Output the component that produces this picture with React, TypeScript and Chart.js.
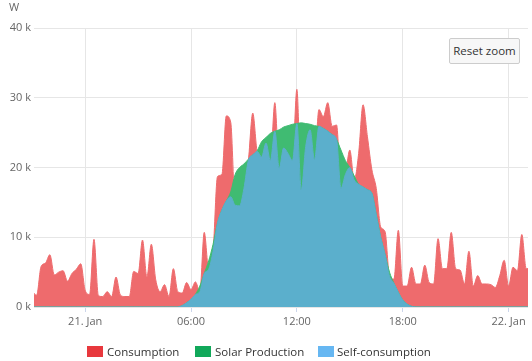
import React, { useEffect, useRef } from "react";
import { Chart, registerables } from "chart.js";

Chart.register(...registerables);

// time grid: 15-minute steps starting 20 Jan 21:00 (hours relative to 21 Jan 00:00)
const startHour = -3;
const stepHours = 0.25;

const consumption = [
  2200, 1700, 5800, 6300, 7500, 4600, 5000, 5200, 3700, 4800,
  5400, 6200, 2400, 1800, 9700, 1600, 1500, 2200, 1500, 4300,
  1700, 1500, 1500, 5100, 4800, 9600, 4300, 9000, 3900, 2200,
  3200, 1500, 5500, 2200, 2000, 3500, 2500, 3600, 2200, 10700,
  5400, 8000, 18700, 19000, 27400, 26500, 14800, 14500, 17000, 21000,
  27800, 22300, 21500, 23500, 21000, 29300, 19900, 22800, 22000, 21000,
  31200, 16800, 23000, 25400, 21100, 28300, 27300, 29300, 25900, 26100,
  17500, 19000, 22500, 18200, 22000, 29000, 24400, 19700, 17000, 11500,
  10800, 4400, 4000, 11000, 3000, 3000, 5700, 3300, 3300, 6000,
  3500, 3300, 9800, 5500, 5500, 10700, 5500, 5300, 3300, 8000,
  3000, 4500, 3300, 3300, 3200, 2800, 4500, 6700, 3000, 5700,
  5200, 10400, 5500, 5500,
];

const solarProduction = [
  0, 0, 0, 0, 0, 0, 0, 0, 0, 0,
  0, 0, 0, 0, 0, 0, 0, 0, 0, 0,
  0, 0, 0, 0, 0, 0, 0, 0, 0, 0,
  0, 0, 0, 0, 200, 600, 1100, 1800, 3000, 4800,
  6600, 9000, 12000, 13900, 15200, 16500, 19000, 20000, 20500, 21200,
  21800, 22400, 23700, 24300, 24900, 25200, 25400, 25800, 26000, 26200,
  26300, 26400, 26300, 26200, 26000, 25900, 25600, 25200, 24700, 24000,
  22500, 21000, 20000, 18800, 17600, 17200, 16800, 16300, 13200, 10000,
  7500, 5000, 3400, 2100, 1000, 400, 100, 0, 0, 0,
  0, 0, 0, 0, 0, 0, 0, 0, 0, 0,
  0, 0, 0, 0, 0, 0, 0, 0, 0, 0,
  0, 0, 0, 0,
];

const selfConsumption = [
  0, 0, 0, 0, 0, 0, 0, 0, 0, 0,
  0, 0, 0, 0, 0, 0, 0, 0, 0, 0,
  0, 0, 0, 0, 0, 0, 0, 0, 0, 0,
  0, 0, 0, 0, 200, 600, 1100, 1800, 2200, 4800,
  5400, 8000, 12000, 13900, 15200, 15800, 14600, 14500, 17000, 21000,
  21800, 22300, 21500, 23500, 21000, 25200, 19900, 22800, 22000, 21000,
  26300, 16800, 23000, 25400, 21100, 25900, 25600, 25200, 24700, 24000,
  17000, 19000, 20000, 18200, 17600, 17200, 16800, 16300, 13200, 10000,
  7500, 4400, 3400, 2100, 1000, 400, 100, 0, 0, 0,
  0, 0, 0, 0, 0, 0, 0, 0, 0, 0,
  0, 0, 0, 0, 0, 0, 0, 0, 0, 0,
  0, 0, 0, 0,
];

const xTickHours = [0, 6, 12, 18, 24];
const xTickLabels = ["21. Jan", "06:00", "12:00", "18:00", "22. Jan"];
const yTickValues = [0, 10000, 20000, 30000, 40000];

const seriesNames = ["Consumption", "Solar Production", "Self-consumption"];
const legendColors = ["#e8383d", "#11a85a", "#66b7f2"];
const fillColors = ["#ee6b6d", "#40bb72", "#5bafcc"];

const FONT = "'Open Sans', sans-serif";

export default function App() {
  const canvasRef = useRef<HTMLCanvasElement | null>(null);

  useEffect(() => {
    const canvas = canvasRef.current;
    if (!canvas) return;
    const toPoints = (arr: number[]) =>
      arr.map((v, i) => ({ x: startHour + i * stepHours, y: v }));
    const series = [consumption, solarProduction, selfConsumption];
    const chart = new Chart(canvas, {
      type: "line",
      data: {
        datasets: series.map((arr, i) => ({
          label: seriesNames[i],
          data: toPoints(arr),
          backgroundColor: fillColors[i],
          borderColor: fillColors[i],
          borderWidth: 1,
          fill: "origin",
          pointRadius: 0,
          tension: 0.4,
          cubicInterpolationMode: "monotone" as const,
          order: 3 - i,
        })),
      },
      options: {
        animation: false,
        responsive: false,
        devicePixelRatio: 1,
        layout: { padding: { left: 0, right: 4, top: 28, bottom: 0 } },
        plugins: {
          legend: { display: false },
          tooltip: { enabled: false },
        },
        scales: {
          x: {
            type: "linear",
            min: -2.9,
            max: 25.1,
            afterBuildTicks: (scale: any) => {
              scale.ticks = xTickHours.map((v) => ({ value: v }));
            },
            afterFit: (scale: any) => {
              scale.height = 54;
            },
            ticks: {
              autoSkip: false,
              maxRotation: 0,
              padding: 3,
              color: "#666666",
              font: { family: FONT, size: 11 },
              callback: (value: any) => {
                const idx = xTickHours.indexOf(Number(value));
                return idx >= 0 ? xTickLabels[idx] : "";
              },
            },
            grid: {
              color: "#e6e6e6",
              lineWidth: 1,
              drawTicks: true,
              tickLength: 5,
              tickColor: "#ccd6eb",
            },
            border: { display: false },
          },
          y: {
            min: 0,
            max: 40000,
            afterBuildTicks: (scale: any) => {
              scale.ticks = yTickValues.map((v) => ({ value: v }));
            },
            afterFit: (scale: any) => {
              scale.width = 34;
            },
            ticks: {
              padding: 3,
              color: "#666666",
              font: { family: FONT, size: 11 },
              callback: (value: any) => `${Number(value) / 1000} k`,
            },
            grid: { color: "#e6e6e6", lineWidth: 1, drawTicks: false },
            border: { display: false },
          },
        },
      },
    });
    return () => chart.destroy();
  }, []);

  const legendItems = [
    { box: 87, text: 107 },
    { box: 195, text: 215 },
    { box: 318, text: 337 },
  ];

  return (
    <div
      style={{
        position: "fixed",
        left: 0,
        top: 0,
        width: 532,
        height: 361,
        background: "#ffffff",
        fontFamily: FONT,
      }}
    >
      <canvas ref={canvasRef} width={532} height={361} style={{ display: "block" }} />
      <div
        style={{
          position: "absolute",
          left: 9,
          top: 0,
          fontSize: 11,
          lineHeight: "14px",
          color: "#666666",
        }}
      >
        W
      </div>
      <div
        style={{
          position: "absolute",
          left: 449,
          top: 38,
          width: 71,
          height: 26,
          boxSizing: "border-box",
          background: "#f7f7f7",
          border: "1px solid #cccccc",
          borderRadius: 2,
          fontSize: 11.5,
          lineHeight: "24px",
          textAlign: "center",
          color: "#333333",
        }}
      >
        Reset zoom
      </div>
      {legendItems.map((it, i) => (
        <React.Fragment key={seriesNames[i]}>
          <div
            style={{
              position: "absolute",
              left: it.box,
              top: 346,
              width: 16,
              height: 11,
              background: legendColors[i],
            }}
          />
          <div
            style={{
              position: "absolute",
              left: it.text,
              top: 343,
              fontSize: 11.5,
              lineHeight: "17px",
              color: "#333333",
              whiteSpace: "nowrap",
            }}
          >
            {seriesNames[i]}
          </div>
        </React.Fragment>
      ))}
    </div>
  );
}
